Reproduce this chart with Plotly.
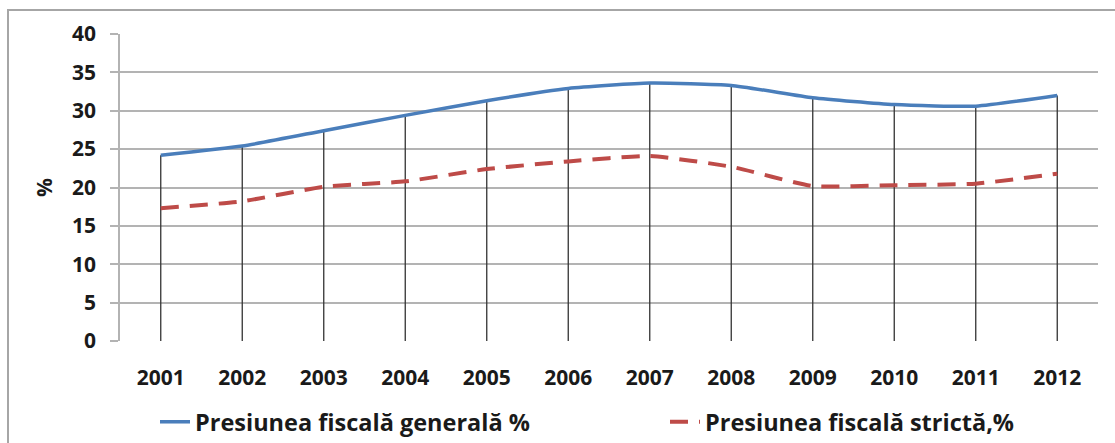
import plotly.graph_objects as go

years = ["2001", "2002", "2003", "2004", "2005", "2006", "2007", "2008", "2009", "2010", "2011", "2012"]
generala = [24.2, 25.4, 27.4, 29.4, 31.3, 32.9, 33.6, 33.3, 31.7, 30.8, 30.6, 32.0]
stricta = [17.3, 18.2, 20.1, 20.8, 22.4, 23.4, 24.1, 22.7, 20.2, 20.3, 20.5, 21.8]
y_ticks = [0, 5, 10, 15, 20, 25, 30, 35, 40]

W, H = 1115, 443
L, R, T, B = 120, 17, 34, 102
pw, ph = W - L - R, H - T - B

def px_x(v):
    return (v - L) / pw

def px_y(v):
    return (H - B - v) / ph

FONT = "Open Sans"
FS = 21
LFS = 23.5
fig = go.Figure()

# drop lines from the category axis to the highest series
dx, dy = [], []
for yr, g, s in zip(years, generala, stricta):
    dx += [yr, yr, None]
    dy += [0, max(g, s), None]
fig.add_trace(go.Scatter(x=dx, y=dy, mode="lines", line=dict(color="#333333", width=1.3),
                         showlegend=False, hoverinfo="skip"))

fig.add_trace(go.Scatter(x=years, y=generala, mode="lines", name="Presiunea fiscală generală %",
                         legendwidth=465,
                         line=dict(color="#4a7ebb", width=3.5, shape="spline", smoothing=0.5)))
fig.add_trace(go.Scatter(x=years, y=stricta, mode="lines", name="Presiunea fiscală strictă,%",
                         line=dict(color="#be4b48", width=4, dash="18px,11px", shape="spline", smoothing=0.5)))

fig.update_layout(
    width=W, height=H,
    margin=dict(l=L, r=R, t=T, b=B, autoexpand=False),
    paper_bgcolor="white", plot_bgcolor="white",
    font=dict(family=FONT, size=FS, color="#1a1a1a"),
    xaxis=dict(type="category", categoryorder="array", categoryarray=years,
               showgrid=False, showline=False, ticks="", range=[-0.5, len(years) - 0.5],
               tickfont=dict(family=FONT, size=FS, weight="bold"), ticklabelstandoff=22,
               zeroline=False),
    yaxis=dict(range=[0, 40], tickvals=y_ticks, showgrid=True, gridcolor="#b3b3b3", gridwidth=1.5,
               showline=True, linecolor="#b3b3b3", linewidth=1.5, ticks="outside", ticklen=8,
               tickcolor="#b3b3b3", tickwidth=1.5, ticklabelstandoff=10,
               tickfont=dict(family=FONT, size=FS, weight="bold"), zeroline=False,
               title=dict(text="%", font=dict(family=FONT, size=FS, weight="bold"), standoff=14)),
    legend=dict(orientation="h", x=px_x(155), y=px_y(422), xanchor="left", yanchor="middle",
                font=dict(family=FONT, size=LFS, weight="bold"),
                bgcolor="rgba(0,0,0,0)"),
    shapes=[dict(type="rect", xref="paper", yref="paper",
                 x0=px_x(8), x1=px_x(1125), y0=px_y(10), y1=px_y(460),
                 line=dict(color="#a6a6a6", width=2), fillcolor="rgba(0,0,0,0)", layer="below")],
)

fig.write_html("out.html", config={"displayModeBar": False},
               post_script="document.body.style.margin='0px';")
